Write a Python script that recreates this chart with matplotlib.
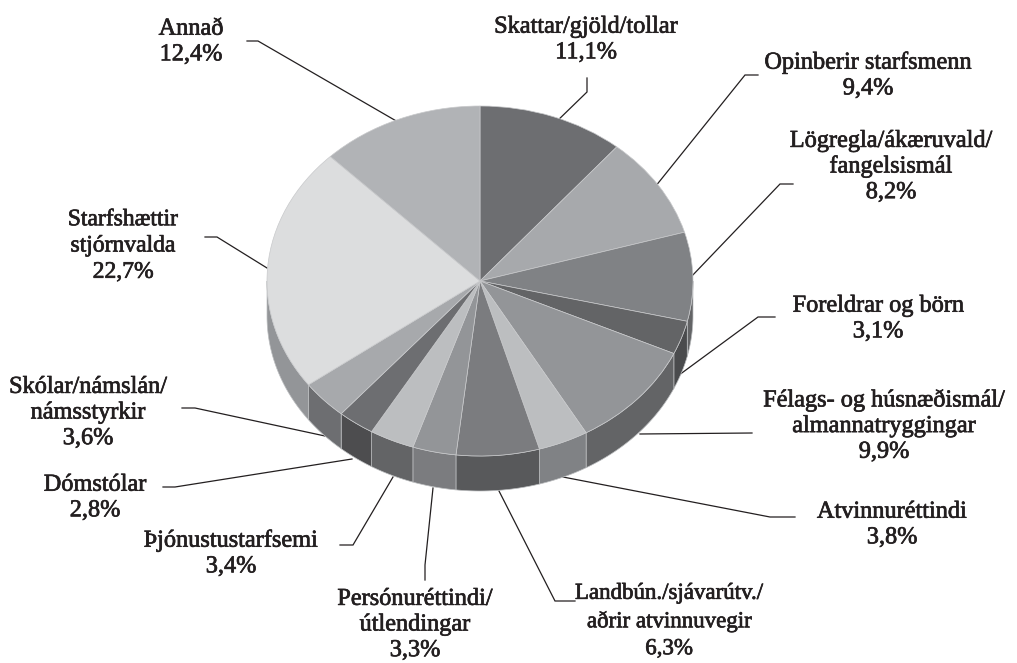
import matplotlib
matplotlib.use('Agg')
import matplotlib.pyplot as plt
import matplotlib.patheffects as pe
from matplotlib.patches import Polygon
import numpy as np

W, H = 1017, 663

# Gögn
labels = ['Skattar/gjöld/tollar', 'Opinberir starfsmenn', 'Lögregla/ákæruvald/\nfangelsismál',
          'Foreldrar og börn', 'Félags- og húsnæðismál/\nalmannatryggingar', 'Atvinnuréttindi',
          'Landbún./sjávarútv./\naðrir atvinnuvegir', 'Persónuréttindi/\nútlendingar',
          'Þjónustustarfsemi', 'Dómstólar', 'Skólar/námslán/\nnámsstyrkir',
          'Starfshættir\nstjórnvalda', 'Annað']
values = [11.1, 9.4, 8.2, 3.1, 9.9, 3.8, 6.3, 3.3, 3.4, 2.8, 3.6, 22.7, 12.4]

top_colors = ['#6d6e71', '#a7a9ac', '#808285', '#636466', '#939598', '#bcbec0', '#7b7c7f',
              '#939598', '#bcbec0', '#6d6e71', '#a7a9ac', '#dcddde', '#b1b3b6']
side_colors = ['#58595b', '#808285', '#636466', '#4a4b4d', '#636466', '#808285', '#58595b',
               '#7b7c7f', '#636466', '#4d4d4f', '#6d6e71', '#939598', '#808285']

# miðja textans í pixlum
label_pos = [(586, 40), (868, 76), (891, 167), (878, 319), (884, 426), (892, 525),
             (669, 621), (415, 625), (231, 554), (95, 498), (88, 413), (123, 246), (191, 42)]
# leturstærð hvers merkis
label_sizes = [17.5, 17.5, 17.5, 17.5, 17.5, 17.5, 16.5, 17.5, 17.5, 17.5, 17.5, 17, 17.5]

# leiðarlínur í pixlum
leaders = [[(587, 78), (587, 92), (553, 125)],
           [(758, 75), (745, 75), (655, 187)],
           [(793, 184), (780, 184), (690, 278)],
           [(775, 317), (758, 317), (675, 378)],
           [(752, 433), (640, 434)],
           [(795, 517), (770, 517), (563, 477)],
           [(575, 601), (555, 601), (499, 491)],
           [(425, 580), (425, 565), (433, 488)],
           [(340, 545), (353, 545), (393, 477)],
           [(163, 487), (175, 487), (352, 459)],
           [(182, 408), (195, 408), (325, 436)],
           [(205, 237), (217, 237), (267, 268)],
           [(247, 41), (258, 41), (398, 122)]]

# kakan: miðja, geislar og þykkt í pixlum
cx, cy, rx, ry, depth = 480, 281, 213, 175, 35

fig = plt.figure(figsize=(W / 100, H / 100), dpi=100, facecolor='white')

# yfirlag í pixlum fyrir línur og texta
ov = fig.add_axes([0, 0, 1, 1], zorder=1)
ov.set_xlim(0, W)
ov.set_ylim(H, 0)
ov.axis('off')

for pts in leaders:
    xs, ys = zip(*pts)
    ov.plot(xs, ys, color='#231f20', lw=0.9, solid_joinstyle='miter')

for lab, v, (x, y), fs in zip(labels, values, label_pos, label_sizes):
    txt = f"{lab}\n{str(v).replace('.', ',')}%"
    # línubilið á að vera um 27 pixlar óháð leturstærð
    t = ov.text(x, y, txt, ha='center', va='center', family='Liberation Serif',
                fontsize=fs, color='#231f20', linespacing=1.29 * 17.5 / fs)
    t.set_path_effects([pe.withStroke(linewidth=0.5, foreground='#231f20')])

ax = fig.add_axes([(cx - rx) / W, 1 - (cy + ry) / H, 2 * rx / W, 2 * ry / H], zorder=2)
ax.patch.set_alpha(0)

# hliðarveggir kökunnar
d = depth / ry
edges = 90 - np.cumsum([0] + values) * 3.6
for i in range(len(values)):
    a0, a1 = edges[i + 1], edges[i]
    # aðeins neðri helmingur sporbaugsins sést
    for lo, hi in [(-180, 0), (180, 360), (-540, -360)]:
        s, e = max(a0, lo), min(a1, hi)
        if s >= e:
            continue
        th = np.radians(np.linspace(s, e, 40))
        x, y = np.cos(th), np.sin(th)
        poly = np.column_stack([np.r_[x, x[::-1]], np.r_[y, y[::-1] - d]])
        ax.add_patch(Polygon(poly, closed=True, facecolor=side_colors[i], edgecolor='#bcbec0',
                             lw=0.5, clip_on=False, zorder=1))

wedges, _ = ax.pie(values, colors=top_colors, startangle=90, counterclock=False, radius=1,
                   wedgeprops={'edgecolor': '#c8c9cb', 'linewidth': 0.5, 'clip_on': False, 'zorder': 2})
ax.set_aspect('auto')
ax.set_xlim(-1, 1)
ax.set_ylim(-1, 1)
ax.axis('off')

fig.savefig('out.png', dpi=100, facecolor='white')
